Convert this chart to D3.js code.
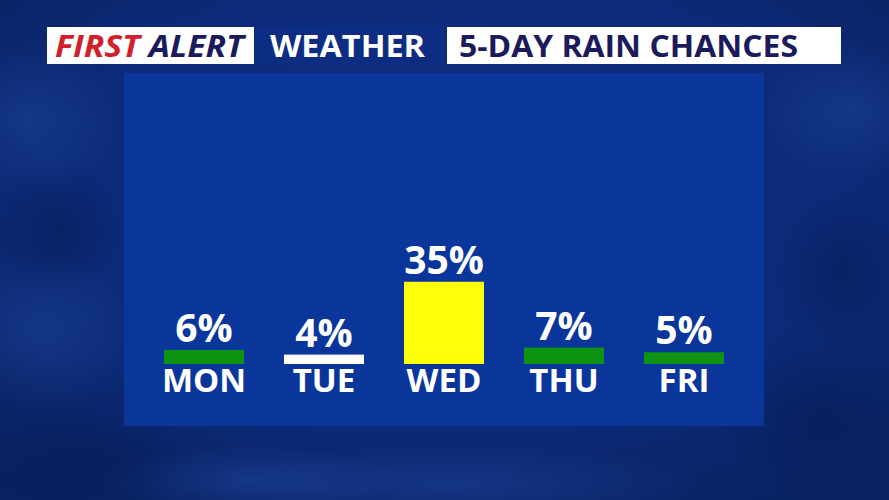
<!DOCTYPE html>
<html><head><meta charset="utf-8">
<script src="https://cdn.jsdelivr.net/npm/d3@7"></script>
<style>html,body{margin:0;padding:0;background:#0a2466;}svg{display:block;}</style>
</head><body>
<svg id="chart" width="889" height="500"></svg>
<script>
const days = ["MON","TUE","WED","THU","FRI"];
const chances = [6,4,35,7,5];
const barColors = ["#0f9312","#ffffff","#ffff0a","#0f9312","#0f9312"];

const svg = d3.select("#chart");
const W = 889, H = 500;
const defs = svg.append("defs");
const rg = defs.append("radialGradient").attr("id","bg").attr("cx","50%").attr("cy","40%").attr("r","75%");
rg.append("stop").attr("offset","0%").attr("stop-color","#0f3088");
rg.append("stop").attr("offset","60%").attr("stop-color","#0c2a78");
rg.append("stop").attr("offset","100%").attr("stop-color","#09215f");
const lg = defs.append("radialGradient").attr("id","cl");
lg.append("stop").attr("offset","0%").attr("stop-color","#2048a0").attr("stop-opacity",0.45);
lg.append("stop").attr("offset","100%").attr("stop-color","#2048a0").attr("stop-opacity",0);
const dg = defs.append("radialGradient").attr("id","cd");
dg.append("stop").attr("offset","0%").attr("stop-color","#061a52").attr("stop-opacity",0.5);
dg.append("stop").attr("offset","100%").attr("stop-color","#061a52").attr("stop-opacity",0);
svg.append("rect").attr("width",W).attr("height",H).attr("fill","url(#bg)");
// cloud hints
const lightClouds = [[30,120,90,80],[40,330,100,80],[850,110,90,70],[450,485,260,40],[250,480,150,35]];
const darkClouds = [[90,460,110,60],[820,420,100,80],[60,230,70,70],[840,270,70,80]];
svg.selectAll("ellipse.l").data(lightClouds).join("ellipse").attr("class","l")
  .attr("cx",d=>d[0]).attr("cy",d=>d[1]).attr("rx",d=>d[2]).attr("ry",d=>d[3]).attr("fill","url(#cl)");
svg.selectAll("ellipse.d").data(darkClouds).join("ellipse").attr("class","d")
  .attr("cx",d=>d[0]).attr("cy",d=>d[1]).attr("rx",d=>d[2]).attr("ry",d=>d[3]).attr("fill","url(#cd)");

// panel
svg.append("rect").attr("x",124).attr("y",73).attr("width",640).attr("height",353).attr("fill","#0a369c");

// title bar
svg.append("rect").attr("x",47).attr("y",27).attr("width",207).attr("height",37).attr("fill","#ffffff");
svg.append("rect").attr("x",254).attr("y",27).attr("width",193).attr("height",37).attr("fill","#0c2d82");
svg.append("rect").attr("x",447).attr("y",27).attr("width",394).attr("height",37).attr("fill","#ffffff");
const tf = "'Open Sans', 'Noto Sans', sans-serif";
const t1 = svg.append("text").attr("x",55).attr("y",57).attr("font-family",tf).attr("font-weight",700)
  .attr("font-style","italic").attr("font-size",30).attr("textLength",189).attr("lengthAdjust","spacingAndGlyphs");
t1.append("tspan").attr("fill","#d11f2b").text("FIRST ");
t1.append("tspan").attr("fill","#1b1b5c").text("ALERT");
svg.append("text").attr("x",270).attr("y",57).attr("font-family",tf).attr("font-weight",700)
  .attr("font-size",30).attr("fill","#ffffff").attr("textLength",155).attr("lengthAdjust","spacingAndGlyphs").text("WEATHER");
svg.append("text").attr("x",459).attr("y",57).attr("font-family",tf).attr("font-weight",700)
  .attr("font-size",30).attr("fill","#1b1b5c").attr("textLength",339).attr("lengthAdjust","spacingAndGlyphs").text("5-DAY RAIN CHANCES");

// scales
const x = d3.scalePoint().domain(days).range([204,684]);
const y = d3.scaleLinear().domain([0,100]).range([364,129]);
const bw = 80;
const data = days.map((d,i)=>({day:d, v:chances[i], c:barColors[i]}));

const g = svg.append("g");
g.selectAll("rect.bar").data(data).join("rect").attr("class","bar")
  .attr("x",d=>x(d.day)-bw/2).attr("width",bw)
  .attr("y",d=>y(d.v)).attr("height",d=>y(0)-y(d.v)).attr("fill",d=>d.c);

g.selectAll("text.pct").data(data).join("text").attr("class","pct")
  .attr("x",d=>x(d.day)).attr("y",d=>y(d.v)-8)
  .attr("text-anchor","middle").attr("font-family",tf).attr("font-weight",700)
  .attr("font-size",39).attr("fill","#ffffff").text(d=>d.v+"%");

g.selectAll("text.day").data(data).join("text").attr("class","day")
  .attr("x",d=>x(d.day)).attr("y",392)
  .attr("text-anchor","middle").attr("font-family",tf).attr("font-weight",700)
  .attr("font-size",33).attr("fill","#ffffff").text(d=>d.day);
</script>
</body></html>
